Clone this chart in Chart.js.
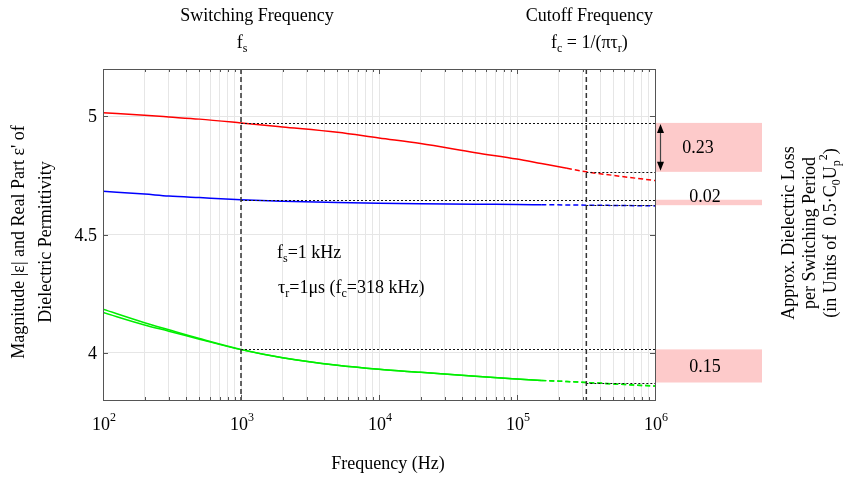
<!DOCTYPE html>
<html>
<head>
<meta charset="utf-8">
<script src="https://cdn.jsdelivr.net/npm/chart.js@4"></script>
<style>
  html, body { margin: 0; padding: 0; background: #fff; }
  #wrap { width: 847px; height: 477px; }
</style>
</head>
<body>
<div id="wrap"><canvas id="chart"></canvas></div>
<script>
// frequency points (Hz) and curve values
const freqs      = [100, 200, 300, 500, 1e3, 2e3, 5e3, 1e4, 2e4, 5e4, 1e5, 1.5e5, 2.3e5, 3.18e5, 5e5, 1e6];
const redVals    = [5.015, 5.004, 4.997, 4.988, 4.972, 4.955, 4.932, 4.908, 4.885, 4.846, 4.819, 4.800, 4.780, 4.765, 4.750, 4.728];
const blueVals   = [4.683, 4.671, 4.663, 4.656, 4.647, 4.641, 4.635, 4.632, 4.630, 4.628, 4.627, 4.626, 4.625, 4.624, 4.623, 4.621];
const greenVals  = [4.184, 4.127, 4.097, 4.060, 4.014, 3.979, 3.947, 3.930, 3.917, 3.900, 3.889, 3.883, 3.878, 3.874, 3.868, 3.859];
const greenVals2 = [4.170, 4.117, 4.091, 4.057, 4.013, 3.979, 3.947, 3.930, 3.917, 3.900, 3.889, 3.883, 3.878, 3.874, 3.868, 3.859];

const fsHz = 1e3;       // switching frequency
const fcHz = 3.18e5;    // cutoff frequency
const lossLabels = ['0.23', '0.02', '0.15'];

const xTickVals = [1e2, 1e3, 1e4, 1e5, 1e6];
const xTickExp  = ['2', '3', '4', '5', '6'];
const yTickVals = [4, 4.5, 5];
const yTickText = ['4', '4.5', '5'];

const FONT = '"Liberation Serif", "Times New Roman", serif';

function series(vals) {
  return freqs.map((f, i) => ({ x: f, y: vals[i] }));
}

function curve(vals, color, dashFrom) {
  return {
    data: series(vals),
    borderColor: color,
    borderWidth: 1.5,
    pointRadius: 0,
    cubicInterpolationMode: 'monotone',
    segment: { borderDash: c => c.p0.parsed.x >= dashFrom ? [5, 3] : undefined }
  };
}

// draws text with sub/superscripts, parts = [[text, mode], ...]
function rich(ctx, parts, x, y, align) {
  const big = '18px ' + FONT, small = '12px ' + FONT;
  let w = 0;
  parts.forEach(([t, m]) => { ctx.font = m ? small : big; w += ctx.measureText(t).width; });
  let cx = align === 'center' ? x - w / 2 : align === 'right' ? x - w : x;
  ctx.textAlign = 'left';
  parts.forEach(([t, m]) => {
    ctx.font = m ? small : big;
    const dy = m === 'sub' ? 4 : m === 'sup' ? -9 : 0;
    ctx.fillText(t, cx, y + dy);
    cx += ctx.measureText(t).width;
  });
}

const overlay = {
  id: 'overlay',
  afterDatasetsDraw(chart) {
    const { ctx, chartArea: a, scales: { x, y } } = chart;
    const iS = freqs.indexOf(fsHz), iC = freqs.indexOf(fcHz);
    const xs = x.getPixelForValue(fsHz), xc = x.getPixelForValue(fcHz);
    ctx.save();

    // dotted level lines
    ctx.strokeStyle = '#111';
    ctx.lineWidth = 1;
    ctx.setLineDash([2, 2]);
    [redVals, blueVals, greenVals].forEach(v => {
      [[v[iS], xs], [v[iC], xc]].forEach(([val, x0]) => {
        const py = Math.round(y.getPixelForValue(val)) + 0.5;
        ctx.beginPath(); ctx.moveTo(x0, py); ctx.lineTo(a.right, py); ctx.stroke();
      });
    });

    // vertical dashed markers
    ctx.strokeStyle = '#333';
    ctx.lineWidth = 1.5;
    ctx.setLineDash([5, 3]);
    [xs, xc].forEach(px => {
      ctx.beginPath(); ctx.moveTo(px, a.top); ctx.lineTo(px, a.bottom); ctx.stroke();
    });
    ctx.setLineDash([]);

    // frame and inward ticks
    ctx.strokeStyle = '#555';
    ctx.lineWidth = 1;
    ctx.strokeRect(a.left + 0.5, a.top + 0.5, a.right - a.left, a.bottom - a.top);
    ctx.beginPath();
    for (let d = 100; d < 1e6; d *= 10) {
      for (let k = 1; k < 10; k++) {
        const px = Math.round(x.getPixelForValue(d * k)) + 0.5;
        const len = k === 1 ? 5 : 3;
        ctx.moveTo(px, a.bottom); ctx.lineTo(px, a.bottom - len);
        ctx.moveTo(px, a.top); ctx.lineTo(px, a.top + len);
      }
    }
    yTickVals.forEach(v => {
      const py = Math.round(y.getPixelForValue(v)) + 0.5;
      ctx.moveTo(a.left, py); ctx.lineTo(a.left + 5, py);
      ctx.moveTo(a.right, py); ctx.lineTo(a.right - 5, py);
    });
    ctx.stroke();
    ctx.restore();
  },
  afterDraw(chart) {
    const { ctx, chartArea: a, scales: { x, y } } = chart;
    const iS = freqs.indexOf(fsHz), iC = freqs.indexOf(fcHz);
    const xs = x.getPixelForValue(fsHz), xc = x.getPixelForValue(fcHz);
    ctx.save();
    ctx.fillStyle = '#000';
    ctx.textBaseline = 'alphabetic';

    // loss boxes to the right of the plot
    const boxRight = 762;
    [redVals, blueVals, greenVals].forEach((v, i) => {
      const y1 = y.getPixelForValue(v[iS]), y2 = y.getPixelForValue(v[iC]);
      ctx.fillStyle = '#fdcaca';
      ctx.fillRect(a.right + 1, y1, boxRight - a.right - 1, y2 - y1);
      ctx.fillStyle = '#000';
      const cy = i === 1 ? y1 - 4 : (y1 + y2) / 2;
      const cx = i === 0 ? 698 : 705;
      rich(ctx, [[lossLabels[i], '']], cx, cy + 6, 'center');
    });

    // double arrow on the red box
    const ay1 = y.getPixelForValue(redVals[iS]) + 1, ay2 = y.getPixelForValue(redVals[iC]) - 1;
    const ax = a.right + 5.5;
    ctx.strokeStyle = '#444';
    ctx.lineWidth = 1.2;
    ctx.beginPath(); ctx.moveTo(ax, ay1 + 6); ctx.lineTo(ax, ay2 - 6); ctx.stroke();
    ctx.beginPath();
    ctx.moveTo(ax, ay1); ctx.lineTo(ax - 3.5, ay1 + 9); ctx.lineTo(ax + 3.5, ay1 + 9); ctx.closePath();
    ctx.moveTo(ax, ay2); ctx.lineTo(ax - 3.5, ay2 - 9); ctx.lineTo(ax + 3.5, ay2 - 9); ctx.closePath();
    ctx.fill();

    // top labels
    rich(ctx, [['Switching Frequency', '']], xs + 16, 21, 'center');
    rich(ctx, [['f', ''], ['s', 'sub']], xs + 1, 48, 'center');
    rich(ctx, [['Cutoff Frequency', '']], xc + 3, 21, 'center');
    rich(ctx, [['f', ''], ['c', 'sub'], [' = 1/(πτ', ''], ['r', 'sub'], [')', '']], xc + 3, 48, 'center');

    // annotation
    rich(ctx, [['f', ''], ['s', 'sub'], ['=1 kHz', '']], 277, 258, 'left');
    rich(ctx, [['τ', ''], ['r', 'sub'], ['=1μs (f', ''], ['c', 'sub'], ['=318 kHz)', '']], 278, 293, 'left');

    // axis tick labels
    xTickVals.forEach((v, i) => {
      rich(ctx, [['10', ''], [xTickExp[i], 'sup']], x.getPixelForValue(v) + 1, 430, 'center');
    });
    yTickVals.forEach((v, i) => {
      rich(ctx, [[yTickText[i], '']], a.left - 6, y.getPixelForValue(v) + 6, 'right');
    });

    // axis titles
    rich(ctx, [['Frequency (Hz)', '']], (a.left + a.right) / 2 + 9, 469, 'center');

    ctx.save();
    ctx.translate(0, 242);
    ctx.rotate(-Math.PI / 2);
    rich(ctx, [["Magnitude |ε| and Real Part ε' of", '']], 0, 24, 'center');
    rich(ctx, [['Dielectric Permittivity', '']], 0, 51, 'center');
    ctx.restore();

    ctx.save();
    ctx.translate(0, 233);
    ctx.rotate(-Math.PI / 2);
    rich(ctx, [['Approx. Dielectric Loss', '']], 0, 794, 'center');
    rich(ctx, [['per Switching Period', '']], 0, 815, 'center');
    rich(ctx, [['(in Units of  0.5·C', ''], ['0', 'sub'], ['U', ''], ['p', 'sub'], ['2', 'sup'], [')', '']], 0, 836, 'center');
    ctx.restore();

    ctx.restore();
  }
};

new Chart(document.getElementById('chart'), {
  type: 'line',
  data: {
    datasets: [
      curve(redVals, '#ff0000', 2.3e5),
      curve(blueVals, '#0000ff', 1.5e5),
      curve(greenVals, '#00ee00', 1.5e5),
      curve(greenVals2, '#00ee00', 1.5e5)
    ]
  },
  options: {
    responsive: true,
    maintainAspectRatio: false,
    animation: false,
    devicePixelRatio: 1,
    layout: { padding: { left: 103, right: 192, top: 69, bottom: 77 } },
    plugins: { legend: { display: false }, tooltip: { enabled: false } },
    scales: {
      x: {
        type: 'logarithmic',
        min: 100,
        max: 1e6,
        afterBuildTicks: s => {
          const t = [];
          for (let d = 100; d < 1e6; d *= 10) for (let k = 1; k < 10; k++) t.push({ value: d * k });
          t.push({ value: 1e6 });
          s.ticks = t;
        },
        ticks: { display: false, autoSkip: false },
        grid: { color: '#e6e6e6', drawTicks: false },
        border: { display: false }
      },
      y: {
        min: 3.8,
        max: 5.2,
        afterBuildTicks: s => { s.ticks = yTickVals.map(v => ({ value: v })); },
        ticks: { display: false },
        grid: { color: '#e6e6e6', drawTicks: false },
        border: { display: false }
      }
    }
  },
  plugins: [overlay]
});
</script>
</body>
</html>
